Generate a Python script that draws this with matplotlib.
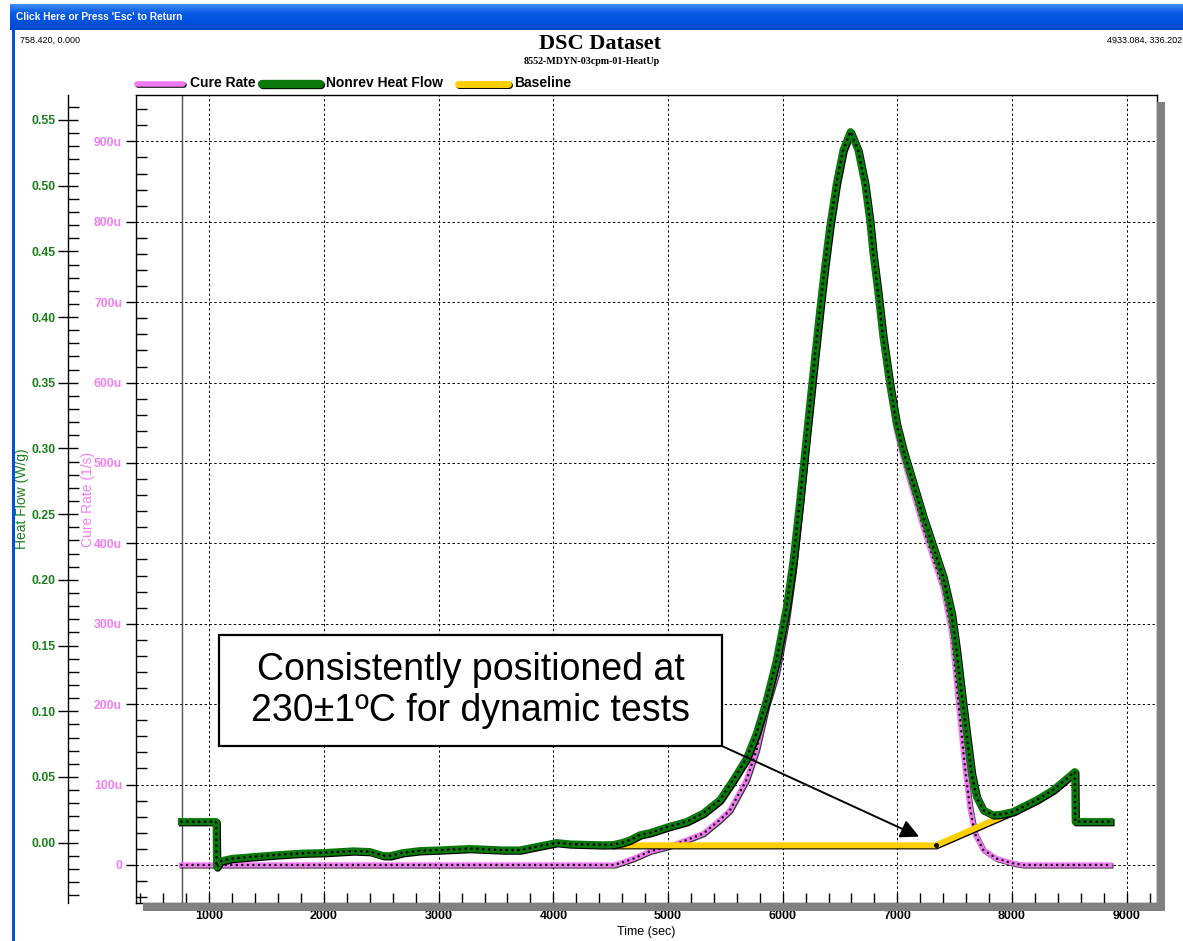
import numpy as np
import matplotlib
matplotlib.use("Agg")
import matplotlib.pyplot as plt
import matplotlib.patheffects as pe
from matplotlib.patches import Rectangle
from matplotlib.lines import Line2D
from matplotlib.ticker import MultipleLocator, FuncFormatter

W, H = 1183, 941

# Nonreversing heat flow (W/g) against time (s)
hf_time = [758, 1060, 1064, 1095, 1200, 1384, 1600, 1820, 2000, 2255, 2400, 2517,
           2575, 2690, 2837, 3000, 3273, 3563, 3709, 3854, 4029, 4145, 4435, 4522,
           4600, 4668, 4754, 4843, 5006, 5162, 5307, 5452, 5568, 5685, 5772, 5859,
           5946, 6034, 6092, 6150, 6208, 6280, 6324, 6367, 6411, 6469, 6527, 6591,
           6657, 6716, 6759, 6788, 6832, 6875, 6933, 6992, 7051, 7138, 7225, 7312,
           7399, 7472, 7516, 7560, 7603, 7647, 7690, 7748, 7835, 7900, 8010, 8068,
           8213, 8358, 8445, 8547, 8551, 8853]
hf_val = [0.016, 0.016, -0.0185, -0.014, -0.012, -0.0107, -0.0092, -0.008, -0.0076,
          -0.0063, -0.0068, -0.0099, -0.0100, -0.0076, -0.0061, -0.0056, -0.0045,
          -0.0056, -0.0056, -0.003, 0.000, -0.001, -0.0017, -0.0015, 0.000, 0.002,
          0.0059, 0.0076, 0.0122, 0.016, 0.0224, 0.0325, 0.0477, 0.0642, 0.0833,
          0.1086, 0.139, 0.1796, 0.2151, 0.2608, 0.310, 0.3699, 0.4054, 0.4384,
          0.4688, 0.5018, 0.5272, 0.5411, 0.5272, 0.5018, 0.474, 0.4486, 0.4181,
          0.3851, 0.3496, 0.3192, 0.2988, 0.2735, 0.2481, 0.2253, 0.2024, 0.1746,
          0.1466, 0.1137, 0.0833, 0.0528, 0.035, 0.0249, 0.0211, 0.0215, 0.0236,
          0.0262, 0.0325, 0.0401, 0.0464, 0.054, 0.016, 0.016]

# Cure rate (micro 1/s) against time (s)
cure_time = [758, 4530, 4600, 4700, 4843, 5006, 5162, 5307, 5452, 5540, 5685, 5772,
             5859, 5946, 6034, 6092, 6150, 6208, 6280, 6324, 6367, 6411, 6469, 6527,
             6591, 6657, 6716, 6759, 6788, 6832, 6875, 6933, 6992, 7051, 7138, 7225,
             7312, 7399, 7472, 7516, 7545, 7589, 7632, 7676, 7748, 7864, 8010, 8100,
             8853]
cure_val = [0, 0, 3, 8, 17, 23, 31, 39, 56, 68, 106, 143, 197, 238, 305, 365, 442,
            527, 625, 684, 740, 791, 846, 889, 912, 889, 846, 799, 757, 706, 650, 591,
            540, 506, 463, 420, 382, 344, 290, 226, 184, 122, 72, 39, 19, 8, 2, 0, 0]

# Integration baseline (W/g)
base_time = [4530, 7335, 8010]
base_val = [-0.002, -0.002, 0.0236]

cursor_t = 758.42
x_ticks = [1000, 2000, 3000, 4000, 5000, 6000, 7000, 8000, 9000]

PINK = "#f07af0"
GREEN = "#0a780a"
YELLOW = "#ffd000"
GREEN_TXT = "#1b7f1b"
PINK_TXT = "#f27ff2"

plt.rcParams["font.family"] = ["Liberation Sans", "DejaVu Sans"]
plt.rcParams["font.weight"] = "bold"


def fx(px):
    return px / W


def fy(py):
    return 1 - py / H


def shadow(dx=0.8, dy=-0.8, alpha=1.0):
    return [pe.SimpleLineShadow(offset=(dx, dy), shadow_color="black", alpha=alpha),
            pe.Normal()]


fig = plt.figure(figsize=(W / 100, H / 100), dpi=100, facecolor="white")

# window chrome: title bar and left border
bar = fig.add_axes([fx(10), fy(30), fx(W - 10), 26 / H])
grad = np.linspace(0, 1, 26)[:, None]
bar.imshow(grad, aspect="auto", extent=[0, 1, 0, 1],
           cmap=matplotlib.colors.LinearSegmentedColormap.from_list(
               "xp", ["#3d8cf5", "#0a5be6", "#0052dc", "#0049cc"]))
bar.set_axis_off()
fig.text(fx(16), fy(17), "Click Here or Press 'Esc' to Return", color="white",
         fontsize=7.3, va="center", ha="left")
fig.add_artist(Rectangle((fx(12), 0), 3 / W, fy(30), transform=fig.transFigure,
                         facecolor="#0050e0", edgecolor="none"))

fig.text(fx(20), fy(40), "758.420, 0.000", fontsize=6.5, weight="normal", va="center")
fig.text(fx(1182), fy(40), "4933.084, 336.202", fontsize=6.5, weight="normal",
         va="center", ha="right")
fig.text(0.507, fy(44), "DSC Dataset", family="Liberation Serif", fontsize=16,
         ha="center", va="center")
fig.text(0.5, fy(62), "8552-MDYN-03cpm-01-HeatUp", family="Liberation Serif",
         fontsize=7.2, ha="center", va="center")

# legend row
legend_items = [(137, 183, PINK, 4.0, "Cure Rate", 190),
                (262, 320, GREEN, 6.0, "Nonrev Heat Flow", 326),
                (458, 508, YELLOW, 5.0, "Baseline", 514)]
for x0, x1, col, lw, name, tx in legend_items:
    ln = Line2D([fx(x0), fx(x1)], [fy(84), fy(84)], transform=fig.transFigure,
                color=col, lw=lw, solid_capstyle="round", path_effects=shadow())
    fig.add_artist(ln)
    fig.text(fx(tx), fy(83), name, fontsize=10, va="center", ha="left")

# drop shadow of the plot frame
fig.add_artist(Rectangle((fx(143), fy(911)), (1165 - 143) / W, 8 / H,
                         transform=fig.transFigure, facecolor="#808080",
                         edgecolor="none"))
fig.add_artist(Rectangle((fx(1157), fy(911)), 8 / W, (911 - 102) / H,
                         transform=fig.transFigure, facecolor="#808080",
                         edgecolor="none"))

ax = fig.add_axes([fx(136), fy(903), (1157 - 136) / W, (903 - 95) / H])
ax.set_facecolor("white")
ax.set_xlim(361, 9264)
ax.set_ylim(-47.3, 957.7)
for s in ax.spines.values():
    s.set_color("black")
    s.set_linewidth(1.0)

ax.grid(True, which="major", color="black", linestyle=(0, (2.5, 2.5)), lw=0.7)
ax.axvline(cursor_t, color="#505050", lw=1.0)

ax.xaxis.set_major_locator(MultipleLocator(1000))
ax.xaxis.set_minor_locator(MultipleLocator(200))
ax.set_xticks(x_ticks)
ax.tick_params(axis="x", which="both", direction="in", length=7, width=1,
               labelsize=9, pad=5)
ax.set_xlabel("Time (sec)", fontsize=9, labelpad=3)

ax.yaxis.set_major_locator(MultipleLocator(100))
ax.yaxis.set_minor_locator(MultipleLocator(20))
ax.yaxis.set_major_formatter(FuncFormatter(lambda v, p: "0" if abs(v) < 1e-9 else f"{v:.0f}u"))
ax.tick_params(axis="y", which="major", direction="out", length=7, width=1,
               labelsize=8.8, labelcolor=PINK_TXT, pad=3)
ax.tick_params(axis="y", which="minor", direction="in", length=8, width=1)
ax.set_ylabel("Cure Rate (1/s)", color=PINK_TXT, fontsize=10, weight="normal")
ax.yaxis.set_label_coords((95 - 136) / (1157 - 136), 0.5)

ax.plot(cure_time, cure_val, color=PINK, lw=3.8, solid_joinstyle="round",
        path_effects=shadow(0.7, -0.7, 0.8), zorder=3)
ax.plot(cure_time, cure_val, color="black", lw=1.8, linestyle=(0, (0.01, 2.2)),
        dash_capstyle="round", zorder=4)

# heat flow axis on an offset left spine
ax2 = ax.twinx()
ax2.set_ylim(-0.0459, 0.5690)
ax2.yaxis.set_ticks_position("left")
ax2.yaxis.set_label_position("left")
for side in ["right", "top", "bottom"]:
    ax2.spines[side].set_visible(False)
ax2.spines["left"].set_position(("axes", -68 / (1157 - 136)))
ax2.spines["left"].set_linewidth(1.0)
ax2.yaxis.set_major_locator(MultipleLocator(0.05))
ax2.yaxis.set_minor_locator(MultipleLocator(0.01))
ax2.yaxis.set_major_formatter(FuncFormatter(lambda v, p: f"{abs(v) if abs(v) < 1e-9 else v:.2f}"))
ax2.tick_params(axis="y", which="major", direction="inout", length=14, width=1,
                labelsize=8.8, labelcolor=GREEN_TXT, pad=2)
ax2.tick_params(axis="y", which="minor", direction="in", length=8, width=1)
ax2.set_ylabel("Heat Flow (W/g)", color=GREEN_TXT, fontsize=10)
ax2.yaxis.set_label_coords((29 - 136) / (1157 - 136), 0.5)

ax2.plot(base_time, base_val, color=YELLOW, lw=4.3, solid_joinstyle="miter",
         path_effects=shadow(0.6, -0.8), zorder=2)
ax2.plot(base_time[:2], base_val[:2], "o", color="black", ms=2.5, zorder=2.5)
ax2.plot(hf_time, hf_val, color=GREEN, lw=5.2, solid_joinstyle="round",
         path_effects=shadow(), zorder=3)
ax2.plot(hf_time, hf_val, color="black", lw=2.0, linestyle=(0, (0.01, 2.1)),
         dash_capstyle="round", zorder=4)

# callout box with arrow to the baseline break
box_x0, box_x1 = 1085, 5470
box_y0, box_y1 = 0.0736, 0.1581
ax2.add_patch(Rectangle((box_x0, box_y0), box_x1 - box_x0, box_y1 - box_y0,
                        facecolor="white", edgecolor="black", lw=1.6, zorder=6))
ax2.text((box_x0 + box_x1) / 2, (box_y0 + box_y1) / 2,
         "Consistently positioned at\n230±1ºC for dynamic tests",
         fontsize=27, weight="normal", ha="center", va="center",
         linespacing=1.15, zorder=7)
ax2.annotate("", xy=(7190, 0.0046), xytext=(box_x1, box_y0),
             arrowprops=dict(arrowstyle="-|>", color="black", lw=1.4,
                             mutation_scale=28, shrinkA=0, shrinkB=0),
             zorder=6)

fig.savefig("out.png", dpi=100, facecolor="white")
